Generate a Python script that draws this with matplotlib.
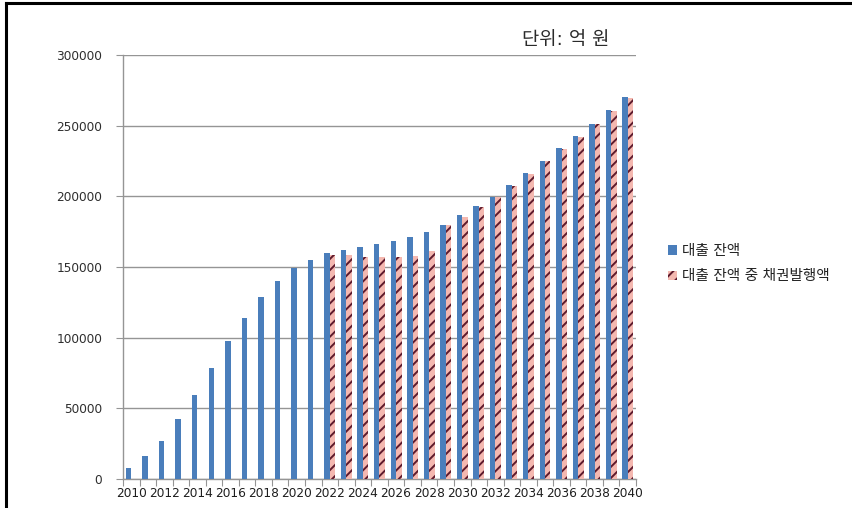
import numpy as np
from matplotlib import pyplot as plt
from matplotlib.lines import Line2D
from matplotlib.patches import Patch

plt.rcParams['font.family'] = ['DejaVu Sans', 'Noto Sans CJK KR']
plt.rcParams['hatch.linewidth'] = 1.4

years = list(range(2010, 2041))

# 대출 잔액 (억 원)
loan_balance = [8000, 16000, 27000, 42500, 59500, 78500, 97500, 114000, 128500, 140000,
                149000, 155000, 159600, 162000, 164000, 166200, 168200, 171000, 175000, 179600,
                186500, 193000, 199600, 208000, 216200, 225100, 234000, 242600, 251500, 261000,
                270400]

# 대출 잔액 중 채권발행액 (2022년부터)
bond_years = list(range(2022, 2041))
bond_issued = [158200, 158600, 156800, 156800, 156800, 157700, 161500, 179400, 185500, 192600,
               199200, 207200, 215700, 224700, 233400, 242100, 250900, 260500, 269900]

series_labels = ['대출 잔액', '대출 잔액 중 채권발행액']
unit_text = '단위: 억 원'

blue = '#4a7ebb'
pink = '#f4b8b0'
stripe = '#5e1a2c'
grid_gray = '#959595'

fig = plt.figure(figsize=(8.53, 5.08), dpi=100)
ax = fig.add_axes([0.1442, 0.0571, 0.6014, 0.8346])

x = np.arange(len(years))
xb = np.array([years.index(y) for y in bond_years])
w = 0.33

ax.bar(x - w / 2, loan_balance, width=w, color=blue, linewidth=0, zorder=3)
ax.bar(xb + w / 2, bond_issued, width=w, color=pink, edgecolor=stripe,
       hatch='///', linewidth=0, zorder=3)

ax.set_xlim(-0.5, len(years) - 0.5)
ax.set_ylim(0, 300000)
ax.set_yticks(np.arange(0, 300001, 50000))
ax.set_yticklabels([str(v) for v in range(0, 300001, 50000)])
ax.yaxis.grid(True, color=grid_gray, linewidth=1.0, zorder=0)

# tick marks sit on the category borders, labels every second year
ax.set_xticks(np.arange(-0.5, len(years), 1.0))
ax.set_xticklabels([])
ax.set_xticks(x[::2], minor=True)
ax.set_xticklabels([str(y) for y in years[::2]], minor=True)
ax.tick_params(axis='x', which='major', length=5, color=grid_gray, direction='out')
ax.tick_params(axis='x', which='minor', length=0, pad=6, labelsize=8.7, labelcolor='#1e1e1e')
ax.tick_params(axis='y', length=5, color=grid_gray, labelsize=8.7, labelcolor='#2e2e2e', pad=10)

for side in ['top', 'right']:
    ax.spines[side].set_visible(False)
for side in ['left', 'bottom']:
    ax.spines[side].set_color(grid_gray)
    ax.spines[side].set_linewidth(1.0)

fig.text(0.612, 0.922, unit_text, fontsize=13.5, color='#2a2a2a', va='center')

handles = [Patch(facecolor=blue, linewidth=0),
           Patch(facecolor=pink, edgecolor=stripe, hatch='///', linewidth=0)]
fig.legend(handles, series_labels, loc='upper left', bbox_to_anchor=(0.768, 0.547),
           frameon=False, fontsize=10.5, handlelength=0.6, handleheight=0.6,
           handletextpad=0.35, labelspacing=0.7, labelcolor='#222222')

# outer frame lines along the top and left edge
fig.add_artist(Line2D([0.0065, 1.0], [0.994, 0.994], color='black', linewidth=2.2,
                      transform=fig.transFigure))
fig.add_artist(Line2D([0.0065, 0.0065], [0.0, 0.994], color='black', linewidth=2.2,
                      transform=fig.transFigure))

fig.savefig('out.png', dpi=100)
